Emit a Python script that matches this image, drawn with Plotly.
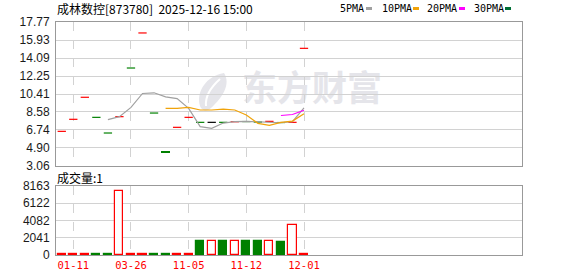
import plotly.graph_objects as go

# ---------------- data ----------------
tick_positions = [1, 6, 11, 16, 21]
tick_labels = ["01-11", "03-26", "11-05", "11-12", "12-01"]

price_ticks = [3.06, 4.90, 6.74, 8.58, 10.41, 12.25, 14.09, 15.93, 17.77]
volume_ticks = [0, 2041, 4082, 6122, 8163]

candle_open = [6.60, 7.83, 10.08, 8.03, 6.43, 8.10, 13.07, 16.65, 8.47, 4.62, 7.01,
               8.03, 7.52, 7.52, 7.52, 7.58, 7.60, 7.55, 7.62, 7.50, 7.52, 15.08]
candle_close = [6.60, 7.83, 10.08, 8.03, 6.43, 8.10, 13.07, 16.65, 8.47, 4.42, 7.01,
                8.03, 7.52, 7.52, 7.52, 7.58, 7.60, 7.55, 7.62, 7.50, 7.52, 15.08]
candle_dir = ["up", "up", "up", "down", "down", "up", "down", "up", "down", "down", "up",
              "up", "down", "flat", "down", "up", "down", "down", "up", "down", "up", "up"]

volume = [100, 100, 100, 100, 100, 7580, 100, 100, 100, 100, 100,
          100, 1690, 1660, 1690, 1660, 1690, 1690, 1660, 1580, 3550, 100]
volume_dir = ["up", "up", "up", "down", "down", "up", "up", "up", "down", "down", "up",
              "up", "down", "up", "down", "up", "down", "down", "up", "down", "up", "up"]

ma5_start = 4
ma5 = [7.80, 8.10, 9.05, 10.47, 10.54, 10.12, 9.94, 8.95, 7.08, 6.91, 7.45,
       7.60, 7.62, 7.55, 7.52, 7.48, 7.59, 9.00]
ma10_start = 9
ma10 = [8.95, 8.95, 9.05, 8.78, 8.78, 8.88, 8.78, 8.27, 7.42, 7.22, 7.52, 7.65, 8.40]
ma20_start = 19
ma20 = [8.22, 8.32, 8.76]

# ---------------- styles ----------------
W, H = 578, 276
RED = "#ff0000"
GREEN = "#008000"
dir_color = {"up": RED, "down": GREEN, "flat": "#000000"}
MA_COLORS = {"5PMA": "#a0a0a0", "10PMA": "#f0a30a", "20PMA": "#ff00ff", "30PMA": "#006f36"}
GRID = "#d2d2d2"
BORDER = "#999999"
CJK = "Noto Sans CJK SC"
MONO = "DejaVu Sans Mono"
SANS = "Liberation Sans"


def px(x):
    return x / W


def py(y):
    return 1 - y / H


fig = go.Figure()

# candles drawn as short dashes (open == close) or small bodies
half = 0.36
for d in ["up", "down", "flat"]:
    xs, ys = [], []
    for i, (o, c, dd) in enumerate(zip(candle_open, candle_close, candle_dir)):
        if dd != d or o != c:
            continue
        xs += [i - half, i + half, None]
        ys += [c, c, None]
    if xs:
        fig.add_trace(go.Scatter(x=xs, y=ys, mode="lines", line=dict(color=dir_color[d], width=1.2),
                                 hoverinfo="skip", showlegend=False, xaxis="x", yaxis="y"))
body_x, body_base, body_h, body_c = [], [], [], []
for i, (o, c, dd) in enumerate(zip(candle_open, candle_close, candle_dir)):
    if o != c:
        body_x.append(i)
        body_base.append(min(o, c))
        body_h.append(abs(o - c))
        body_c.append(dir_color[dd])
if body_x:
    fig.add_trace(go.Bar(x=body_x, y=body_h, base=body_base, width=0.72,
                         marker=dict(color=body_c, line=dict(width=0)),
                         showlegend=False, xaxis="x", yaxis="y", hoverinfo="skip"))

# moving averages
for name, start, vals in [("5PMA", ma5_start, ma5), ("10PMA", ma10_start, ma10), ("20PMA", ma20_start, ma20)]:
    fig.add_trace(go.Scatter(x=list(range(start, start + len(vals))), y=vals, mode="lines",
                             line=dict(color=MA_COLORS[name], width=1.2), showlegend=False,
                             xaxis="x", yaxis="y", hoverinfo="skip"))

# volume
vx = list(range(len(volume)))
fill = ["#ffffff" if d == "up" else GREEN for d in volume_dir]
edge = [RED if d == "up" else GREEN for d in volume_dir]
fig.add_trace(go.Bar(x=vx, y=volume, width=0.7,
                     marker=dict(color=fill, line=dict(color=edge, width=1.2)),
                     showlegend=False, xaxis="x2", yaxis="y2", hoverinfo="skip"))

xdom = [px(56), px(522)]
common_x = dict(domain=xdom, range=[-0.5, 39.9], tickvals=tick_positions, showgrid=True,
                gridcolor=GRID, griddash="dash", gridwidth=1, zeroline=False, showline=True,
                linecolor=BORDER, linewidth=1, mirror=True, ticks="", fixedrange=True,
                automargin=False)
common_y = dict(showgrid=True, gridcolor=GRID, zeroline=False, showline=True, linecolor=BORDER,
                mirror=True, ticks="", ticklabelstandoff=3, automargin=False,
                tickfont=dict(family=SANS, size=12, color="#1a1a1a"))

fig.update_layout(
    width=W, height=H, margin=dict(l=0, r=0, t=0, b=0, autoexpand=False),
    paper_bgcolor="#ffffff", plot_bgcolor="#ffffff",
    bargap=0, barmode="overlay",
    xaxis=dict(**common_x, anchor="y", showticklabels=False),
    yaxis=dict(**common_y, domain=[py(166), py(22)], range=[3.06, 17.77], tickvals=price_ticks,
               ticktext=[f"{v:.2f}" for v in price_ticks], anchor="x"),
    xaxis2=dict(**common_x, anchor="y2", matches="x", showticklabels=True, ticktext=tick_labels,
                tickfont=dict(family=MONO, size=10.5, color=RED)),
    yaxis2=dict(**common_y, domain=[py(255), py(186)], range=[0, 8163], tickvals=volume_ticks,
                ticktext=[str(v) for v in volume_ticks], anchor="x2"),
)

# watermark (below data)
fig.add_shape(type="rect", xref="paper", yref="paper", x0=px(238), x1=px(386), y0=py(110), y1=py(72),
              line=dict(width=0), fillcolor="rgba(0,0,0,0)", layer="below",
              label=dict(text="东方财富", font=dict(family=CJK, size=35, color="#e5e5ea", weight="bold"),
                         textposition="middle center"))


def path_px(cmds):
    out = []
    for c in cmds:
        if isinstance(c, str):
            out.append(c)
        else:
            out.append(f"{px(c[0]):.5f},{py(c[1]):.5f}")
    return " ".join(out)


fig.add_shape(type="path", xref="paper", yref="paper", layer="below", line=dict(width=0),
              fillcolor="#e5e5ea",
              path=path_px(["M", (224, 73), "C", (206, 76), (196, 92), (200, 106), "C", (202, 111), (207, 112),
                            (211, 108), "C", (223, 97), (231, 84), (224, 73), "Z"]))
fig.add_shape(type="path", xref="paper", yref="paper", layer="below", line=dict(width=2, color="#ffffff"),
              path=path_px(["M", (220, 79), "C", (211, 87), (205, 96), (206, 106)]))

# title & panel labels
fig.add_annotation(x=px(55), y=py(8.5), xref="paper", yref="paper", xanchor="left", yanchor="middle",
                   text="成林数控[873780]  2025-12-16 15:00", showarrow=False,
                   font=dict(family=CJK, size=12, color="#000000"))
fig.add_annotation(x=px(55), y=py(177), xref="paper", yref="paper", xanchor="left", yanchor="middle",
                   text="成交量:1", showarrow=False, font=dict(family=CJK, size=12, color="#000000"))

# legend
legend_items = [("5PMA", 338, 366), ("10PMA", 380, 413), ("20PMA", 425, 459), ("30PMA", 472, 505)]
for name, tx, mx in legend_items:
    fig.add_annotation(x=px(tx), y=py(8.5), xref="paper", yref="paper", xanchor="left", yanchor="middle",
                       text=name, showarrow=False, font=dict(family=MONO, size=10, color="#000000"))
    fig.add_shape(type="rect", xref="paper", yref="paper", x0=px(mx), x1=px(mx + 6), y0=py(10), y1=py(7),
                  line=dict(width=0), fillcolor=MA_COLORS[name])

fig.write_html("out.html")
